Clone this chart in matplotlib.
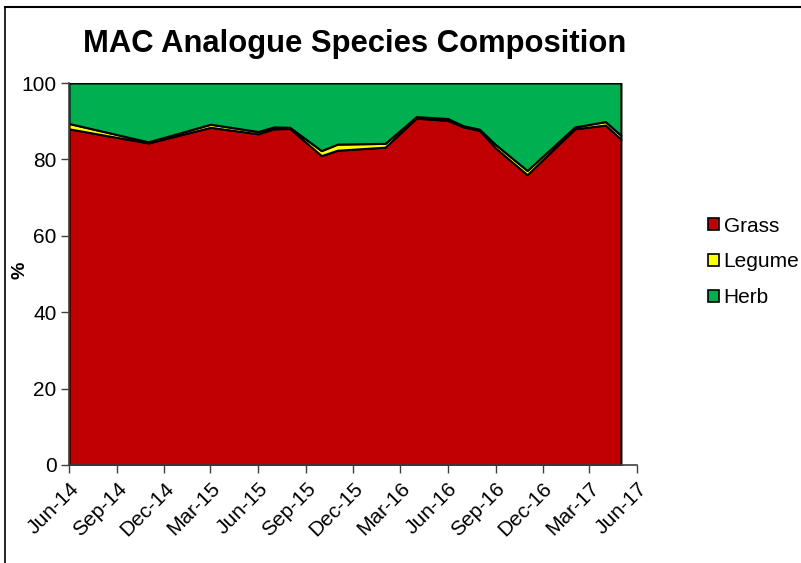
import numpy as np
import pandas as pd
import matplotlib
matplotlib.use('Agg')
import matplotlib.pyplot as plt
import matplotlib.dates as mdates
from matplotlib.lines import Line2D
from matplotlib.patches import Patch

plt.rcParams['font.family'] = ['Liberation Sans', 'DejaVu Sans']

# sampling dates (first of month)
dates = pd.to_datetime([
    '2014-06-01', '2014-11-01', '2015-03-01', '2015-06-01', '2015-07-01',
    '2015-08-01', '2015-10-01', '2015-11-01', '2016-02-01', '2016-04-01',
    '2016-06-01', '2016-07-01', '2016-08-01', '2016-09-01', '2016-11-01',
    '2017-02-01', '2017-04-01', '2017-05-01',
])
grass = np.array([88.0, 84.3, 88.4, 86.7, 88.0, 88.1, 81.0, 82.4, 83.2, 90.8,
                  90.2, 88.5, 87.6, 83.0, 76.0, 88.0, 89.0, 85.3])
legume = np.array([1.4, 0.3, 0.8, 0.6, 0.5, 0.3, 1.3, 1.6, 1.0, 0.4,
                   0.5, 0.3, 0.3, 0.9, 1.1, 0.5, 0.9, 1.0])
herb = 100 - grass - legume

labels = ['Grass', 'Legume', 'Herb']
colors = ['#C00000', '#FFFF00', '#00B050']

fig = plt.figure(figsize=(8.01, 5.63), dpi=100)
ax = fig.add_axes([69 / 801, 1 - 465 / 563, (637 - 69) / 801, (465 - 83) / 563])

ax.stackplot(dates, grass, legume, herb, colors=colors,
             edgecolor='black', linewidth=1.5)

ax.set_ylim(0, 100)
ax.set_xlim(pd.Timestamp('2014-06-01'), pd.Timestamp('2017-06-01'))
ax.set_yticks(range(0, 101, 20))
ax.xaxis.set_major_locator(mdates.MonthLocator(bymonth=[3, 6, 9, 12]))
ax.xaxis.set_major_formatter(mdates.DateFormatter('%b-%y'))

for s in ['top', 'right']:
    ax.spines[s].set_visible(False)
for s in ['left', 'bottom']:
    ax.spines[s].set_color('#404040')
    ax.spines[s].set_linewidth(1.2)
ax.tick_params(axis='both', direction='out', length=6, width=1,
               color='#404040', labelsize=15)
plt.setp(ax.get_xticklabels(), rotation=45, ha='right', rotation_mode='anchor')
ax.tick_params(axis='x', pad=4)
ax.tick_params(axis='y', pad=3)

ax.set_ylabel('%', fontsize=14, fontweight='bold')
ax.yaxis.set_label_coords(-0.072, 0.51)
fig.text(0.443, 0.922, 'MAC Analogue Species Composition', ha='center',
         va='center', fontsize=22.3, fontweight='bold')

handles = [Patch(facecolor=c, edgecolor='black', linewidth=1.2) for c in colors]
fig.legend(handles, labels, loc='center left', bbox_to_anchor=(0.884, 0.535),
           frameon=False, fontsize=15, handlelength=0.5, handleheight=0.5,
           handletextpad=0.25, labelspacing=0.8, borderpad=0, borderaxespad=0)

# outer chart border (left and top)
fig.add_artist(Line2D([5 / 801, 5 / 801], [0, 1 - 6.5 / 563], color='black',
                      linewidth=1.2, transform=fig.transFigure))
fig.add_artist(Line2D([5 / 801, 1], [1 - 6.5 / 563, 1 - 6.5 / 563],
                      color='black', linewidth=1.5, transform=fig.transFigure))

fig.savefig('out.png', dpi=100)
